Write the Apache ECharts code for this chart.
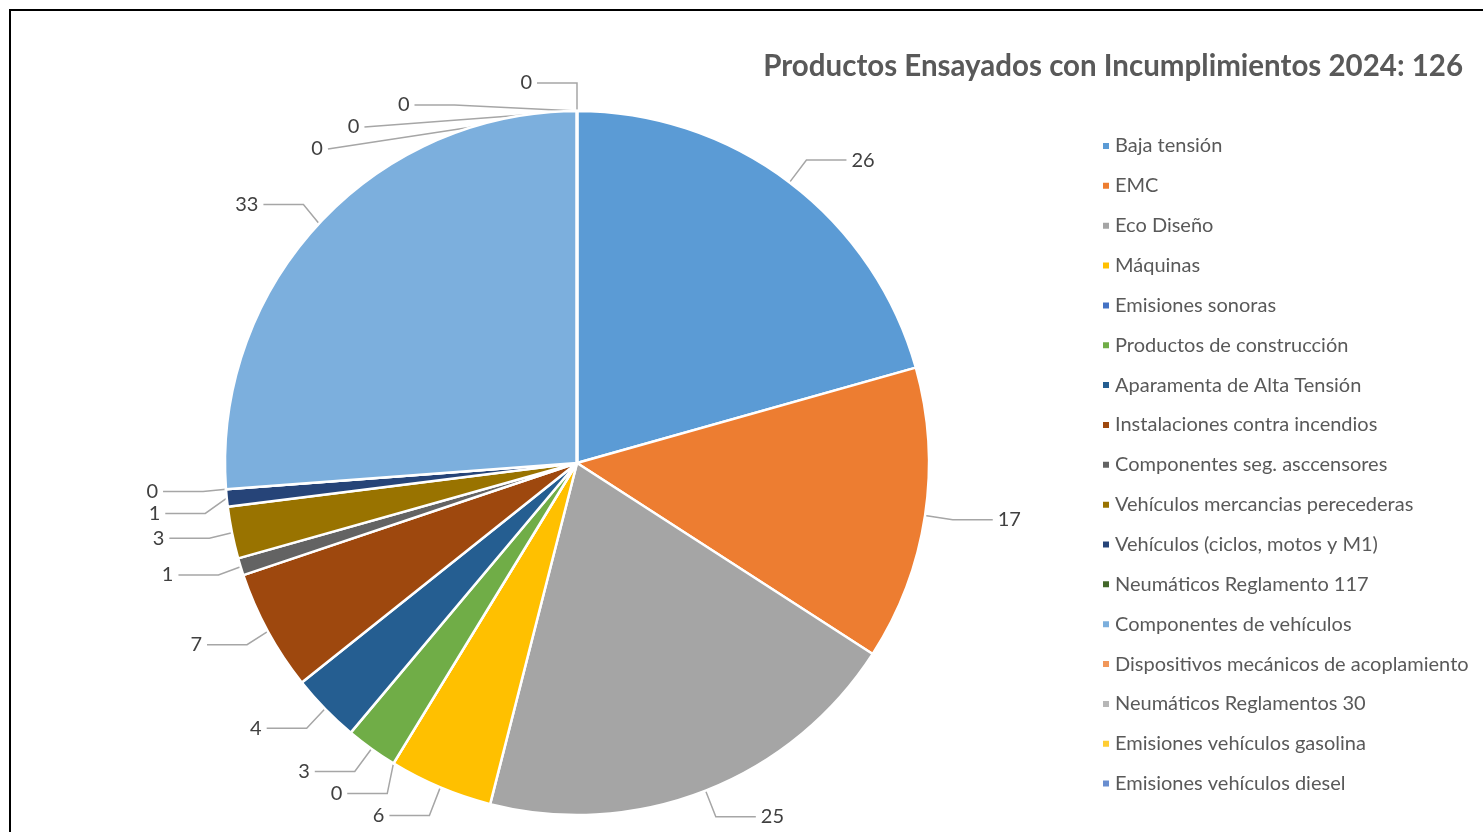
<!DOCTYPE html>
<html><head><meta charset="utf-8">
<script src="https://cdn.jsdelivr.net/npm/echarts@6/dist/echarts.min.js"></script>
<style>html,body{margin:0;padding:0;background:#fff;}#c{width:1483px;height:832px;}</style>
</head><body><div id="c"></div>
<script>
const categories = ["Baja tensión","EMC","Eco Diseño","Máquinas","Emisiones sonoras","Productos de construcción","Aparamenta de Alta Tensión","Instalaciones contra incendios","Componentes seg. asccensores","Vehículos mercancias perecederas","Vehículos (ciclos, motos y M1)","Neumáticos Reglamento 117","Componentes de vehículos","Dispositivos mecánicos de acoplamiento","Neumáticos Reglamentos 30","Emisiones vehículos gasolina","Emisiones vehículos diesel"];
const values = [26,17,25,6,0,3,4,7,1,3,1,0,33,0,0,0,0];
const colors = ["#5B9BD5","#ED7D31","#A5A5A5","#FFC000","#4472C4","#70AD47","#255E91","#9E480E","#636363","#997300","#264478","#43682B","#7CAFDD","#F1975A","#B7B7B7","#FFCD33","#698ED0"];
const titleText = "Productos Ensayados con Incumplimientos 2024: 126";

const chart = echarts.init(document.getElementById('c'));
chart.setOption({
  animation:false,
  color: colors,
  title:{text:titleText,right:15,top:46,textStyle:{fontFamily:'Lato',fontWeight:'bold',fontSize:29.5,color:'#595959'}},
  legend:{orient:'vertical',left:1096,top:131,icon:'rect',itemWidth:8,itemHeight:8,itemGap:19.85,
    textStyle:{fontFamily:'Lato',fontSize:20,color:'#595959',lineHeight:20},data:categories},
  graphic:[{type:'rect',shape:{x:10,y:10,width:1600,height:1000},style:{fill:'none',stroke:'#000',lineWidth:2},silent:true}],
  series:[{type:'pie',center:[577,463],radius:352,startAngle:90,clockwise:true,
    stillShowZeroSum:true,minShowLabelAngle:0,
    itemStyle:{borderColor:'#fff',borderWidth:2.5},
    label:{show:true,position:'outside',formatter:'{c}',fontFamily:'Lato',fontSize:20,color:'#404040'},
    labelLine:{show:true,length:28,length2:40,lineStyle:{color:'#A6A6A6',width:1.5}},
    data:categories.map((n,i)=>({name:n,value:values[i]}))
  }]
});
</script></body></html>
